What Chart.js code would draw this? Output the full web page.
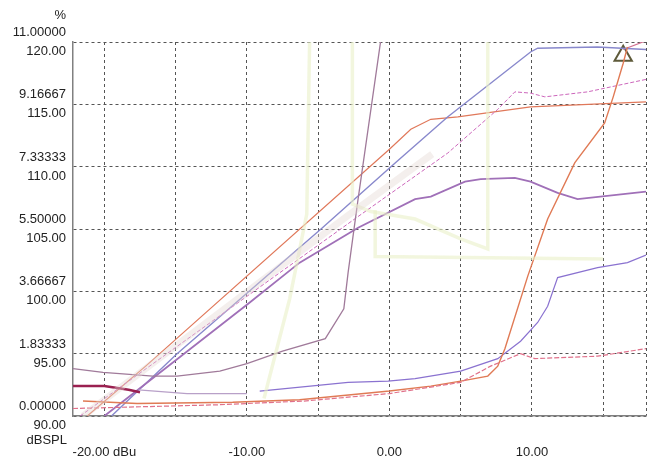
<!DOCTYPE html>
<html>
<head>
<meta charset="utf-8">
<script src="https://cdn.jsdelivr.net/npm/chart.js@4.4.1/dist/chart.umd.min.js"></script>
<style>
  html, body { margin: 0; padding: 0; background: #fff; }
  #wrap { width: 658px; height: 463px; }
</style>
</head>
<body>
<div id="wrap"><canvas id="c" width="658" height="463"></canvas></div>
<script>
// axis ticks / labels
const yTicks = [90, 95, 100, 105, 110, 115, 120];
const pctLabels = ["0.00000", "1.83333", "3.66667", "5.50000", "7.33333", "9.16667", "11.00000"];
const dbLabels = ["90.00", "95.00", "100.00", "105.00", "110.00", "115.00", "120.00"];
const xGridTicks = [-20, -15, -10, -5, 0, 5, 10, 15, 18];
const xLabelValues = [-20, -10, 0, 10];
const xLabelTexts = ["-20.00 dBu", "-10.00", "0.00", "10.00"];
const pctUnit = "%";
const dbUnit = "dBSPL";

// series (x in dBu, y in dBSPL)
const orangeX = [-21.2, -17.1, 0, 1.5, 2.9, 4.8, 9.9, 18];
const orangeY = [90, 94, 111.4, 113, 113.8, 114, 114.8, 115.2];

const blueX = [-19.5, -14.9, -4.8, 0.4, 4.1, 9.9, 10.4, 14.6, 18];
const blueY = [90, 95, 105, 110.3, 114, 119.2, 119.5, 119.6, 119.4];

const pinkX = [-21.7, -2.2, 4.1, 7.6, 8.8, 9.9, 10.9, 13.9, 18];
const pinkY = [90, 106, 111.1, 114.6, 116, 115.9, 115.6, 116, 117];

const violetX = [-20, -9.8, -6.3, -2.2, 1.8, 2.9, 5.3, 6.4, 8.8, 9.9, 11.8, 13.2, 18];
const violetY = [90, 99.1, 102.3, 105.1, 107.4, 107.6, 108.8, 109, 109.1, 108.8, 107.9, 107.4, 108];

const mauveX = [-22.2, -20.1, -16.6, -14.9, -11.9, -10, -7.5, -4.5, -3.2, -2.9, -2.2, -0.6];
const mauveY = [93.8, 93.5, 93.2, 93.2, 93.6, 94.2, 95.2, 96.2, 98.6, 101.5, 107.4, 120.2];

const lowBlueX = [-9.1, -2.9, -0.1, 1.8, 5, 7.6, 9.2, 10.4, 11.1, 11.8, 14.6, 16.7, 18];
const lowBlueY = [92, 92.7, 92.8, 93, 93.6, 94.6, 96, 97.5, 98.8, 101.1, 101.9, 102.3, 102.9];

const redX = [-21.5, -17.7, -11, -6.3, 0, 2.9, 5, 6.9, 7.6, 8.1, 9.7, 11.1, 13, 15.1, 15.7, 16.4, 16.7];
const redY = [91.2, 91, 91.1, 91.3, 92, 92.4, 92.8, 93.2, 94, 95.4, 101.2, 105.8, 110.3, 113.5, 115.6, 118.3, 119.6];

const roseX = [-22.2, -12, -6, 0, 5, 7.1, 9.2, 10.2, 14.6, 18];
const roseY = [90.6, 90.9, 91.2, 91.8, 92.7, 94, 95, 94.6, 94.8, 95.4];

const crimsonX = [-22.2, -20, -18.3, -17.5];
const crimsonY = [92.4, 92.4, 92.1, 91.9];

const lilacX = [-17.6, -14.2, -10];
const lilacY = [92.1, 91.8, 91.8];

const pale1X = [-8.8, -7, -5.8, -5.6];
const pale1Y = [91.4, 99.4, 106.2, 120];
const pale2X = [-2.6, -2.6, -1.3, 1.8, 5, 6.9, 6.9];
const pale2Y = [120, 107, 106.4, 105.8, 104.2, 103.4, 120];
const pale3X = [-1, -1, 15];
const pale3Y = [106.5, 102.8, 102.6];

const bandX = [-21.5, -3, 3];
const bandY = [90, 106, 111];

const topPinkX = [16.4, 18];
const topPinkY = [119.4, 120.1];

const markerX = [16.4];
const markerY = [118.9];

const pts = (xs, ys) => xs.map((x, i) => ({x: x, y: ys[i]}));

function line(xs, ys, color, width, dash) {
    return {
        data: pts(xs, ys),
        borderColor: color,
        borderWidth: width,
        borderDash: dash || [],
        showLine: true,
        pointRadius: 0,
        tension: 0
    };
}

const axisTitles = {
    id: 'axisTitles',
    afterDraw(chart) {
        const ctx = chart.ctx;
        ctx.save();
        ctx.font = '13px "Liberation Sans", Arial, sans-serif';
        ctx.fillStyle = '#222';
        ctx.textAlign = 'right';
        ctx.textBaseline = 'middle';
        ctx.fillText(pctUnit, 66, 15);
        ctx.fillText(dbUnit, 67, 440);
        ctx.restore();
    }
};

new Chart(document.getElementById('c').getContext('2d'), {
    type: 'scatter',
    data: {
        datasets: [
            line(bandX, bandY, 'rgba(228,214,210,0.4)', 7),
            line(pale1X, pale1Y, 'rgba(234,240,200,0.6)', 3.5),
            line(pale2X, pale2Y, 'rgba(234,240,200,0.6)', 3.5),
            line(pale3X, pale3Y, 'rgba(234,240,200,0.6)', 3.5),
            line(roseX, roseY, '#e0708a', 1.2, [5, 2]),
            line(redX, redY, '#e07a55', 1.4),
            line(lowBlueX, lowBlueY, '#8a72d0', 1.2),
            line(lilacX, lilacY, '#b8a0c8', 1.2),
            line(crimsonX, crimsonY, '#9a2050', 2.5),
            line(mauveX, mauveY, '#a07a9a', 1.3),
            line(violetX, violetY, '#a070b8', 1.8),
            line(pinkX, pinkY, '#cc66bb', 1, [4, 2]),
            line(blueX, blueY, '#8888cc', 1.4),
            line(orangeX, orangeY, '#e0785a', 1.2),
            line(topPinkX, topPinkY, '#d07090', 1.2),
            {
                data: pts(markerX, markerY),
                pointStyle: 'triangle',
                pointRadius: 10,
                borderColor: '#5e5a3a',
                borderWidth: 2,
                backgroundColor: 'rgba(0,0,0,0)',
                showLine: false
            }
        ]
    },
    options: {
        responsive: false,
        animation: false,
        events: [],
        layout: { padding: { top: 42, right: 8, left: 0, bottom: 0 } },
        plugins: {
            legend: { display: false },
            tooltip: { enabled: false }
        },
        scales: {
            x: {
                type: 'linear',
                min: -22.2,
                max: 18,
                afterBuildTicks: scale => { scale.ticks = xGridTicks.map(v => ({value: v})); },
                afterFit: scale => {
                    scale.height = 47;
                    scale.paddingLeft = 0;
                    scale.paddingRight = 0;
                },
                grid: { color: '#555', lineWidth: 1, drawTicks: false },
                border: { display: true, color: '#808080', width: 1.5, dash: [3, 3] },
                ticks: {
                    autoSkip: false,
                    maxRotation: 0,
                    padding: 29,
                    color: '#222',
                    font: { family: '"Liberation Sans", Arial, sans-serif', size: 13 },
                    callback: v => {
                        const i = xLabelValues.indexOf(v);
                        return i < 0 ? '' : xLabelTexts[i];
                    }
                }
            },
            y: {
                min: 90,
                max: 120,
                afterBuildTicks: scale => { scale.ticks = yTicks.map(v => ({value: v})); },
                afterFit: scale => {
                    scale.width = 73;
                    scale.paddingTop = 0;
                    scale.paddingBottom = 0;
                },
                grid: { color: '#555', lineWidth: 1, drawTicks: false },
                border: { display: true, color: '#808080', width: 1.5, dash: [3, 3] },
                ticks: {
                    padding: 7,
                    color: '#222',
                    font: { family: '"Liberation Sans", Arial, sans-serif', size: 13, lineHeight: 1.45 },
                    callback: v => {
                        const i = yTicks.indexOf(v);
                        return i < 0 ? '' : [pctLabels[i], dbLabels[i]];
                    }
                }
            }
        }
    },
    plugins: [axisTitles]
});
</script>
</body>
</html>
